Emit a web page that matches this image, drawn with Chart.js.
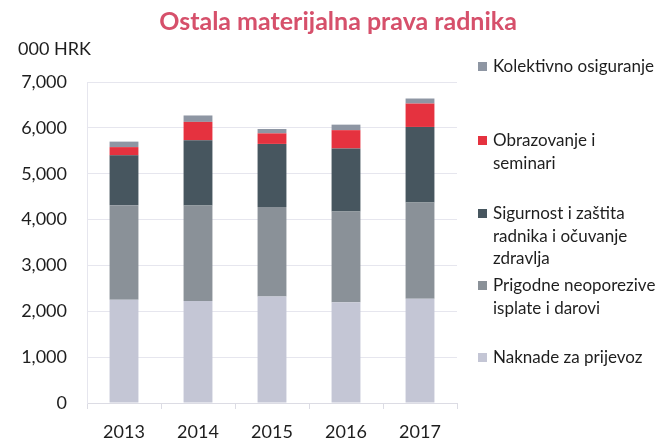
<!DOCTYPE html>
<html>
<head>
<meta charset="utf-8">
<script src="https://cdn.jsdelivr.net/npm/chart.js@4"></script>
<style>
  body { margin: 0; background: #fff; }
  #wrap { position: relative; width: 671px; height: 440px; font-family: Lato, "Open Sans", sans-serif; color: #1e1e1e; }
  #title { position: absolute; left: 0; width: 676px; top: 5px; text-align: center; font-size: 25px; font-weight: bold; color: #d6506b; }
  #unit { position: absolute; left: 18px; top: 37px; font-size: 18px; }
  .leg { position: absolute; left: 477px; font-size: 17px; line-height: 22.5px; }
  .leg span.box { position: absolute; left: 1px; top: 7px; width: 9px; height: 9px; }
  .leg div.txt { margin-left: 16px; }
</style>
</head>
<body>
<div id="wrap">
  <canvas id="chart" width="671" height="440"></canvas>
  <div id="title">Ostala materijalna prava radnika</div>
  <div id="unit">000 HRK</div>
  <div id="legend"></div>
</div>
<script>
const years = ["2013", "2014", "2015", "2016", "2017"];

const naknade = [2250, 2225, 2320, 2195, 2275];
const prigodne = [2065, 2080, 1955, 1980, 2100];
const sigurnost = [1085, 1425, 1375, 1375, 1645];
const obrazovanje = [180, 400, 230, 400, 510];
const kolektivno = [120, 140, 95, 120, 110];

// legend rows, top to bottom
const legendRows = [
  { name: "Kolektivno osiguranje", lines: ["Kolektivno osiguranje"], top: 55, color: "#8e96a3" },
  { name: "Obrazovanje i seminari", lines: ["Obrazovanje i", "seminari"], top: 129, color: "#e5323f" },
  { name: "Sigurnost i zaštita radnika i očuvanje zdravlja", lines: ["Sigurnost i zaštita", "radnika i očuvanje", "zdravlja"], top: 202, color: "#47565f" },
  { name: "Prigodne neoporezive isplate i darovi", lines: ["Prigodne neoporezive", "isplate i darovi"], top: 274, color: "#8a9198" },
  { name: "Naknade za prijevoz", lines: ["Naknade za prijevoz"], top: 346, color: "#c4c6d5" }
];

const datasets = [
  { label: legendRows[4].name, data: naknade, backgroundColor: legendRows[4].color },
  { label: legendRows[3].name, data: prigodne, backgroundColor: legendRows[3].color },
  { label: legendRows[2].name, data: sigurnost, backgroundColor: legendRows[2].color },
  { label: legendRows[1].name, data: obrazovanje, backgroundColor: legendRows[1].color },
  { label: legendRows[0].name, data: kolektivno, backgroundColor: legendRows[0].color }
];

const legend = document.getElementById("legend");
legendRows.forEach(row => {
  const el = document.createElement("div");
  el.className = "leg";
  el.style.top = row.top + "px";
  el.innerHTML = '<span class="box" style="background:' + row.color + '"></span><div class="txt">' + row.lines.join("<br>") + "</div>";
  legend.appendChild(el);
});

new Chart(document.getElementById("chart"), {
  type: "bar",
  data: {
    labels: years,
    datasets: datasets.map(d => Object.assign({ barPercentage: 0.39, categoryPercentage: 1 }, d))
  },
  options: {
    responsive: false,
    animation: false,
    layout: { padding: { top: 82, right: 214, left: 0, bottom: 0 } },
    plugins: {
      legend: { display: false },
      tooltip: { enabled: false }
    },
    scales: {
      x: {
        stacked: true,
        grid: { offset: true, drawOnChartArea: false, tickLength: 6, color: "#dcdce4" },
        border: { color: "#dcdce4" },
        ticks: { padding: 12, color: "#1e1e1e", font: { family: "Lato", size: 18 } },
        afterFit: s => { s.height = 37; }
      },
      y: {
        stacked: true,
        min: 0,
        max: 7000,
        ticks: { stepSize: 1000, padding: 20, color: "#1e1e1e", font: { family: "Lato", size: 18 } },
        grid: { color: "#e6e6ee", drawTicks: false },
        border: { color: "#e6e6ee" },
        afterFit: s => { s.width = 87; }
      }
    }
  }
});
</script>
</body>
</html>
